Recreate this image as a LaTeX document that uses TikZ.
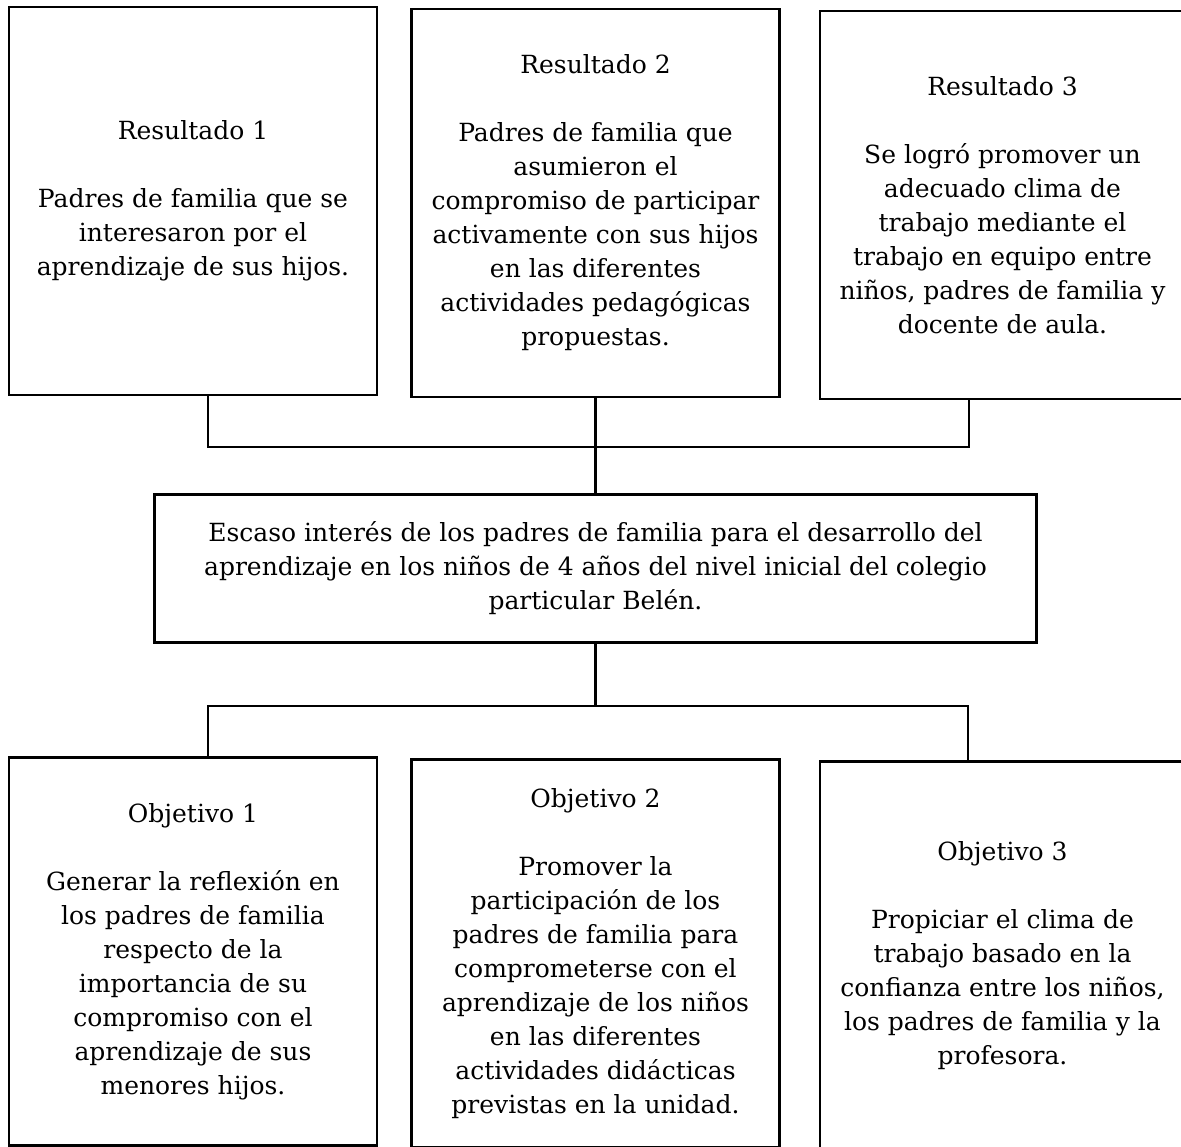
\documentclass[tikz,border=0pt]{standalone}
\usepackage{fontspec}
\setmainfont{DejaVu Serif}
\usetikzlibrary{positioning}

\begin{document}
\begin{tikzpicture}[x=1pt, y=1pt, line width=2.5pt, font=\fontsize{25}{34}\selectfont,
	main/.style = {draw, rectangle, align=center, inner sep=0pt, minimum width=368pt, minimum height=388pt}]
		\useasboundingbox (0,0) rectangle (1181,1147);
		\node[main] (1) at (193,946) {Resultado 1\\[34pt] Padres de familia que se\\ interesaron por el\\ aprendizaje de sus hijos.};
		\node[main] (2) [right=32pt of 1, yshift=-2pt] {Resultado 2\\[34pt] Padres de familia que\\ asumieron el\\ compromiso de participar\\ activamente con sus hijos\\ en las diferentes\\ actividades pedagógicas\\ propuestas.};
		\node[main, minimum width=365pt] (3) [right=38pt of 2, yshift=-2pt] {Resultado 3\\[34pt] Se logró promover un\\ adecuado clima de\\ trabajo mediante el\\ trabajo en equipo entre\\ niños, padres de familia y\\ docente de aula.};
		\node[main, minimum width=882pt, minimum height=148pt] (4) [below=95pt of 2] {Escaso interés de los padres de familia para el desarrollo del\\ aprendizaje en los niños de 4 años del nivel inicial del colegio\\ particular Belén.};
		\node[main] (5) [below=360pt of 1] {Objetivo 1\\[34pt] Generar la reflexión en\\ los padres de familia\\ respecto de la\\ importancia de su\\ compromiso con el\\ aprendizaje de sus\\ menores hijos.};
		\node[main] (6) [right=32pt of 5, yshift=-2pt] {Objetivo 2\\[34pt] Promover la\\ participación de los\\ padres de familia para\\ comprometerse con el\\ aprendizaje de los niños\\ en las diferentes\\ actividades didácticas\\ previstas en la unidad.};
		\node[main, minimum width=365pt] (7) [right=38pt of 6, yshift=-2pt] {Objetivo 3\\[34pt] Propiciar el clima de\\ trabajo basado en la\\ confianza entre los niños,\\ los padres de familia y la\\ profesora.};
		\coordinate (a) at (208,700);
		\coordinate (b) at (969,700);
		\coordinate (c) at (208,441);
		\coordinate (d) at (968,441);
		\draw (1.south -| a) -- (a) -- (b) -- (3.south -| b);
		\draw (2.south) -- (4.north);
		\draw (4.south) -- (4.south |- c);
		\draw (5.north -| c) -- (c) -- (d) -- (7.north -| d);
		\end{tikzpicture}
\end{document}
